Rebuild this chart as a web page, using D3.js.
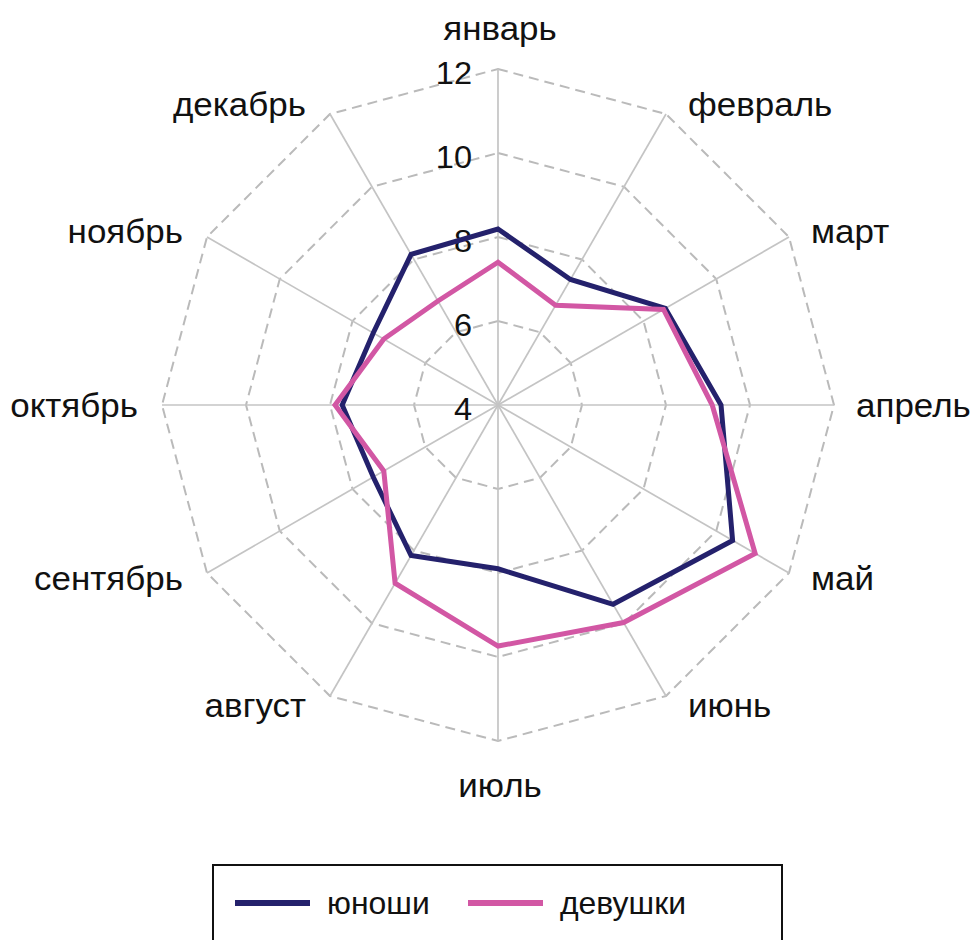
<!DOCTYPE html>
<html>
<head>
<meta charset="utf-8">
<script src="https://cdn.jsdelivr.net/npm/d3@7"></script>
<style>
  body { margin: 0; background: #fff; }
  text { font-family: "Liberation Sans", Arial, sans-serif; fill: #111; }
</style>
</head>
<body>
<script>
'use strict'

// data
let months = ['январь', 'февраль', 'март', 'апрель', 'май', 'июнь',
              'июль', 'август', 'сентябрь', 'октябрь', 'ноябрь', 'декабрь']
let boys  = [8.19, 7.45, 8.6, 9.31, 10.45, 9.48, 7.9, 8.14, 7.43, 7.71, 7.43, 8.14]
let girls = [7.4, 6.74, 8.55, 9.1, 11.07, 9.98, 9.74, 8.9, 7.14, 7.88, 7.14, 6.86]
let ticks = [4, 6, 8, 10, 12]
let seriesNames = ['юноши', 'девушки']

let width = 974, height = 940
let cx = 498, cy = 405
let R = 336
let navy = '#24216c', pink = '#d257a4'

let svg = d3.select('body').append('svg')
            .attr('width', width)
            .attr('height', height)

let r = d3.scaleLinear().domain([4, 12]).range([0, R])
let n = months.length
let ang = i => i * 2 * Math.PI / n

let g = svg.append('g').attr('transform', 'translate(' + cx + ',' + cy + ')')

// dashed rings
let ring = d3.lineRadial()
             .angle((d, i) => ang(i))
             .radius(d => r(d))
             .curve(d3.curveLinearClosed)

g.selectAll('.ring')
  .data(ticks.slice(1))
  .enter()
  .append('path')
  .attr('d', t => ring(months.map(() => t)))
  .attr('fill', 'none')
  .attr('stroke', '#bababa')
  .attr('stroke-width', 2)
  .attr('stroke-dasharray', '10,6')

// spokes
g.selectAll('.spoke')
  .data(months)
  .enter()
  .append('line')
  .attr('x1', 0).attr('y1', 0)
  .attr('x2', (d, i) => r(12) * Math.sin(ang(i)))
  .attr('y2', (d, i) => -r(12) * Math.cos(ang(i)))
  .attr('stroke', '#c4c4c4')
  .attr('stroke-width', 1.7)

// tick labels
g.selectAll('.tick')
  .data(ticks)
  .enter()
  .append('text')
  .attr('transform', t => 'translate(-26,' + (-r(t) + 14.5) + ') scale(1.05,1)')
  .attr('text-anchor', 'end')
  .style('font-size', '31px')
  .text(t => t)

// month labels
let labelPos = (i) => {
  let s = Math.sin(ang(i)), c = Math.cos(ang(i))
  if (Math.abs(s) < 0.1) return [2, c > 0 ? -r(12) - 41 : r(12) + 44]
  return [r(12) * s + (s > 0 ? 22 : -24), -r(12) * c - 11 * c]
}

g.selectAll('.month')
  .data(months)
  .enter()
  .append('text')
  .style('font-size', '33px')
  .attr('text-anchor', (d, i) => {
    let s = Math.sin(ang(i))
    if (Math.abs(s) < 0.1) return 'middle'
    return s > 0 ? 'start' : 'end'
  })
  .attr('transform', (d, i) => 'translate(' + labelPos(i) + ') scale(1.06,1)')
  .attr('dy', '0.35em')
  .text(d => d)

// series
let line = d3.lineRadial()
             .angle((d, i) => ang(i))
             .radius(d => r(d))
             .curve(d3.curveLinearClosed)

let series = [[boys, navy], [girls, pink]]
g.selectAll('.series')
  .data(series)
  .enter()
  .append('path')
  .attr('d', s => line(s[0]))
  .attr('fill', 'none')
  .attr('stroke', s => s[1])
  .attr('stroke-width', 5)
  .attr('stroke-linejoin', 'miter')

// legend
let lg = svg.append('g')
lg.append('rect')
  .attr('x', 213).attr('y', 865)
  .attr('width', 569).attr('height', 100)
  .attr('fill', 'none')
  .attr('stroke', '#111')
  .attr('stroke-width', 2)

let lx = [235, 468]
seriesNames.forEach((name, i) => {
  lg.append('line')
    .attr('x1', lx[i]).attr('x2', lx[i] + 75)
    .attr('y1', 903).attr('y2', 903)
    .attr('stroke', series[i][1])
    .attr('stroke-width', 6)
  lg.append('text')
    .attr('transform', 'translate(' + (lx[i] + 92) + ',903) scale(1.03,1)')
    .attr('dy', '0.35em')
    .style('font-size', '31px')
    .text(name)
})
</script>
</body>
</html>
